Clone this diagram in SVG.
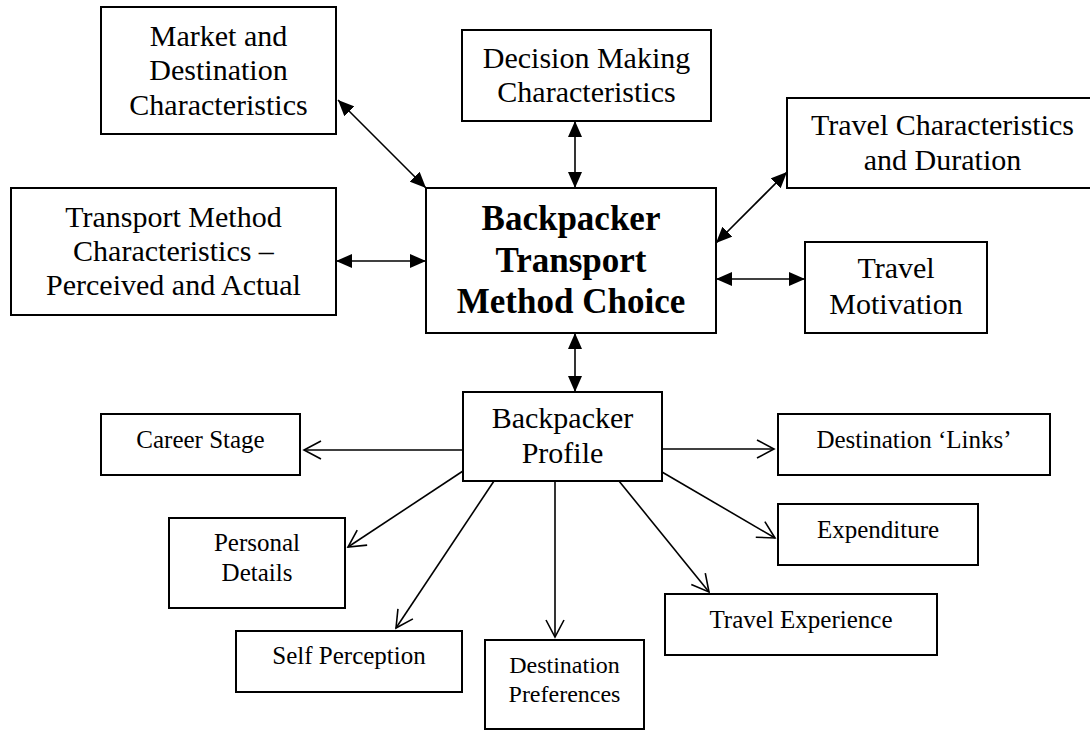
<svg xmlns="http://www.w3.org/2000/svg" width="1090" height="732" viewBox="0 0 1090 732">
<defs>
<style>
.box{fill:#fff;stroke:#000;stroke-width:2}
.t{font-family:"Liberation Serif","Times New Roman",serif;font-size:30px;text-anchor:middle;fill:#000}
.s{font-size:25px}
.b{font-weight:bold;font-size:35px}
.c{stroke:#000;stroke-width:1.6;fill:none}
.bi{marker-start:url(#fill);marker-end:url(#fill)}
.op{marker-end:url(#open)}
</style>
<marker id="fill" markerUnits="userSpaceOnUse" markerWidth="16" markerHeight="14" refX="16" refY="7" orient="auto-start-reverse">
<path d="M0,0 L16,7 L0,14 z" fill="#000"/>
</marker>
<marker id="open" markerUnits="userSpaceOnUse" markerWidth="20" markerHeight="22" refX="18" refY="11" orient="auto">
<path d="M1,2 L18,11 L1,20" fill="none" stroke="#000" stroke-width="1.6"/>
</marker>
</defs>
<rect width="1090" height="732" fill="#fff"/>
<g id="connectors">
<line class="c bi" x1="338" y1="100" x2="426" y2="188"/>
<line class="c bi" x1="336" y1="261" x2="426" y2="261"/>
<line class="c bi" x1="575" y1="121" x2="575" y2="188"/>
<line class="c bi" x1="787" y1="172" x2="716" y2="243"/>
<line class="c bi" x1="716" y1="279" x2="805" y2="279"/>
<line class="c bi" x1="575" y1="333" x2="575" y2="392"/>
<line class="c op" x1="463" y1="450" x2="304" y2="450"/>
<line class="c op" x1="463" y1="471" x2="348" y2="547"/>
<line class="c op" x1="494" y1="481" x2="396" y2="628"/>
<line class="c op" x1="555" y1="481" x2="555" y2="637"/>
<line class="c op" x1="619" y1="481" x2="709" y2="592"/>
<line class="c op" x1="662" y1="472" x2="775" y2="538"/>
<line class="c op" x1="662" y1="449" x2="774" y2="449"/>
</g>
<g id="market"><rect class="box" x="101" y="7" width="235" height="127"/>
<text class="t" x="218.5" y="46">Market and</text><text class="t" x="218.5" y="80">Destination</text><text class="t" x="218.5" y="115">Characteristics</text></g>
<g id="decision"><rect class="box" x="462" y="30" width="249" height="91"/>
<text class="t" x="586.5" y="68">Decision Making</text><text class="t" x="586.5" y="102">Characteristics</text></g>
<g id="transport"><rect class="box" x="11" y="188" width="325" height="127"/>
<text class="t" x="173.5" y="227">Transport Method</text><text class="t" x="173.5" y="261">Characteristics –</text><text class="t" x="173.5" y="295">Perceived and Actual</text></g>
<g id="center"><rect class="box" x="426" y="188" width="290" height="145"/>
<text class="t b" x="571" y="230">Backpacker</text><text class="t b" x="571" y="272">Transport</text><text class="t b" x="571" y="313">Method Choice</text></g>
<g id="travelchar"><rect class="box" x="787" y="98" width="311" height="90"/>
<text class="t" x="942.5" y="135">Travel Characteristics</text><text class="t" x="942.5" y="170">and Duration</text></g>
<g id="motivation"><rect class="box" x="805" y="242" width="182" height="91"/>
<text class="t" x="896" y="278">Travel</text><text class="t" x="896" y="314">Motivation</text></g>
<g id="profile"><rect class="box" x="463" y="392" width="199" height="89"/>
<text class="t" x="562.5" y="428">Backpacker</text><text class="t" x="562.5" y="463">Profile</text></g>
<g id="career"><rect class="box" x="101" y="414" width="199" height="61"/>
<text class="t s" x="200.5" y="448">Career Stage</text></g>
<g id="personal"><rect class="box" x="169" y="518" width="176" height="90"/>
<text class="t s" x="257" y="551">Personal</text><text class="t s" x="257" y="581">Details</text></g>
<g id="self"><rect class="box" x="236" y="631" width="226" height="61"/>
<text class="t s" x="349" y="664">Self Perception</text></g>
<g id="destpref"><rect class="box" x="485" y="640" width="159" height="89"/>
<text class="t" style="font-size:24px" x="564.5" y="673">Destination</text><text class="t" style="font-size:24px" x="564.5" y="702">Preferences</text></g>
<g id="links"><rect class="box" x="778" y="414" width="272" height="61"/>
<text class="t s" x="914" y="448">Destination ‘Links’</text></g>
<g id="expenditure"><rect class="box" x="778" y="504" width="200" height="61"/>
<text class="t s" x="878" y="538">Expenditure</text></g>
<g id="travelexp"><rect class="box" x="665" y="594" width="272" height="61"/>
<text class="t s" x="801" y="628">Travel Experience</text></g>
</svg>
